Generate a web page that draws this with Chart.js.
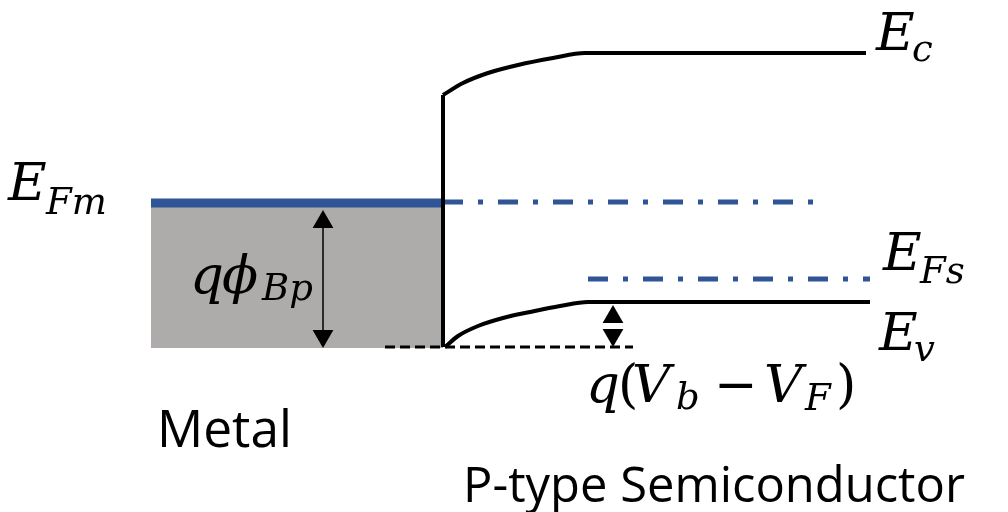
<!DOCTYPE html>
<html>
<head>
<meta charset="utf-8">
<script src="https://cdn.jsdelivr.net/npm/chart.js@4.4.1/dist/chart.umd.min.js"></script>
<style>
  html, body { margin: 0; padding: 0; background: #fff; }
  #wrap { width: 1008px; height: 512px; position: relative; }
</style>
</head>
<body>
<div id="wrap"><canvas id="band"></canvas></div>
<script>
// band diagram, drawn on a pixel-like grid (x 0..1008, y 0..512, y down)
const metalFill = [{x: 151, y: 348}, {x: 443, y: 348}];
const efmMetal = [{x: 151, y: 203}, {x: 443, y: 203}];
const junction = [{x: 443, y: 347}, {x: 443, y: 95}];
const ecBand = [{x: 443, y: 95}, {x: 463, y: 83}, {x: 488, y: 73}, {x: 518, y: 65}, {x: 553, y: 58}, {x: 585, y: 53}, {x: 866, y: 53}];
const evBand = [{x: 445, y: 347}, {x: 458, y: 336}, {x: 478, y: 326}, {x: 503, y: 318}, {x: 530, y: 312}, {x: 560, y: 306}, {x: 588, y: 302}, {x: 870, y: 302}];
const efmSemi = [{x: 443, y: 202}, {x: 820, y: 202}];
const efsSemi = [{x: 588, y: 279}, {x: 870, y: 279}];
const evEdge = [{x: 385, y: 347}, {x: 633, y: 347}];
const phiArrow = [{x: 323, y: 212}, {x: 323, y: 346}];
const phiHeads = [{x: 323, y: 222}, {x: 323, y: 336}];
const vbHeads = [{x: 613, y: 317}, {x: 613, y: 335}];

const labelMetal = "Metal";
const labelSemi = "P-type Semiconductor";

const blue = "#2F5597";
const black = "#000000";

function line(data, color, width, dash) {
    return {
        data: data,
        showLine: true,
        borderColor: color,
        borderWidth: width,
        borderDash: dash || [],
        pointRadius: 0,
        fill: false,
        cubicInterpolationMode: "monotone",
        clip: false
    };
}

function heads(data, r) {
    return {
        data: data,
        showLine: false,
        pointStyle: "triangle",
        pointRadius: r,
        pointRotation: [0, 180],
        pointBackgroundColor: black,
        pointBorderWidth: 0,
        clip: false
    };
}

const mathFont = "italic 53px 'DejaVu Serif'";
const subFont = "italic 37px 'DejaVu Serif'";
const upFont = "52px 'DejaVu Serif'";

// each piece: [text, font, x, baseline]
function mathLabel(ctx, pieces) {
    pieces.forEach(function (p) {
        ctx.font = p[1];
        ctx.fillText(p[0], p[2], p[3]);
    });
}

function fitText(ctx, text, x, y, w, family) {
    ctx.font = "50px " + family;
    let size = 50 * w / ctx.measureText(text).width;
    ctx.font = size.toFixed(1) + "px " + family;
    ctx.fillText(text, x, y);
}

const textPlugin = {
    id: "bandText",
    afterDatasetsDraw: function (chart) {
        const ctx = chart.ctx;
        ctx.save();
        ctx.fillStyle = black;
        ctx.textBaseline = "alphabetic";
        ctx.textAlign = "left";
        mathLabel(ctx, [["E", mathFont, 8, 200], ["Fm", subFont, 46, 214]]);
        mathLabel(ctx, [["E", mathFont, 876, 50], ["c", subFont, 912, 61]]);
        mathLabel(ctx, [["E", mathFont, 883, 270], ["Fs", subFont, 920, 283]]);
        mathLabel(ctx, [["E", mathFont, 879, 350], ["v", subFont, 914, 361]]);
        mathLabel(ctx, [["q", mathFont, 190, 293], ["\u03D5", mathFont, 222, 293], ["Bp", subFont, 262, 300]]);
        mathLabel(ctx, [
            ["q", mathFont, 586, 402], ["(", upFont, 618, 402], ["V", mathFont, 632, 402],
            ["b", subFont, 676, 409], ["\u2212", upFont, 714, 402], ["V", mathFont, 764, 402],
            ["F", subFont, 805, 410], [")", upFont, 836, 402]
        ]);
        fitText(ctx, labelMetal, 157, 447, 135, "'Open Sans'");
        fitText(ctx, labelSemi, 463, 502, 502, "'Open Sans'");
        ctx.restore();
    }
};

// first dataset is drawn on top, so the gray block goes last
new Chart(document.getElementById("band"), {
    type: "scatter",
    data: {
        datasets: [
            heads(vbHeads, 12),
            heads(phiHeads, 12),
            line(phiArrow, black, 1.5),
            line(evBand, black, 4),
            line(ecBand, black, 4),
            line(junction, black, 4),
            line(evEdge, black, 3, [10, 5]),
            line(efsSemi, blue, 5, [20, 15, 5, 15]),
            line(efmSemi, blue, 5, [20, 15, 5, 15]),
            line(efmMetal, blue, 9),
            {
                data: metalFill,
                showLine: true,
                borderWidth: 0,
                pointRadius: 0,
                backgroundColor: "#AEABAB",
                fill: {target: {value: 203}}
            }
        ]
    },
    options: {
        responsive: true,
        maintainAspectRatio: false,
        animation: false,
        layout: {padding: 0, autoPadding: false},
        plugins: {legend: {display: false}, tooltip: {enabled: false}},
        scales: {
            x: {type: "linear", min: 0, max: 1008, display: false},
            y: {type: "linear", min: 0, max: 512, reverse: true, display: false}
        }
    },
    plugins: [textPlugin]
});
</script>
</body>
</html>
